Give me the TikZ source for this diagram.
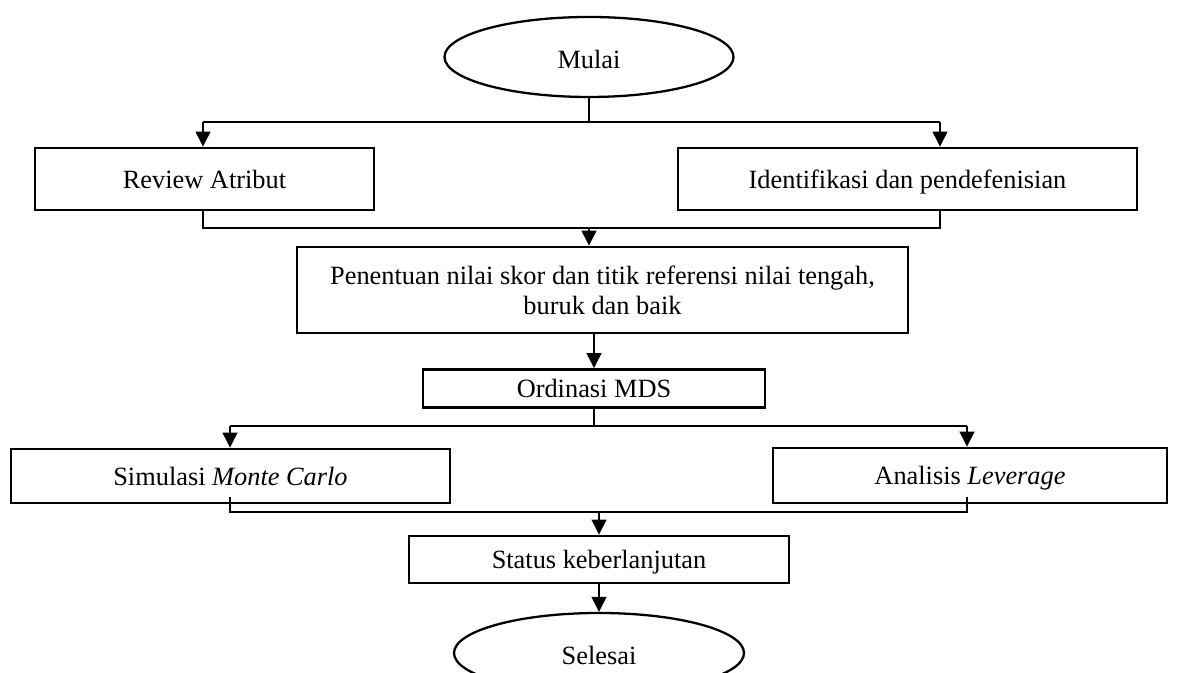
\documentclass[tikz,border=0pt]{standalone}
\usepackage{fontspec}
\setmainfont{Liberation Serif}
\usetikzlibrary{arrows.meta,positioning,calc,shapes.geometric}

\begin{document}
\begin{tikzpicture}[font=\fontsize{15}{17}\selectfont, >={Triangle[length=3mm,width=3mm]},
  procbox/.style={draw, line width=1.6pt, inner sep=0pt, align=center},
  oneline/.style={text height=1.05em, text depth=0em},
  termoval/.style={draw, ellipse, line width=1.3pt, inner sep=0pt, text height=1.3em, text depth=0em},
  link/.style={line width=0.6pt}]
  \useasboundingbox (0,0) rectangle (23.84,13.46);
  \def\sA{11.02}\def\jA{8.90}
  \def\sB{4.94}\def\jB{3.22}

  % ===== terminals and process boxes =====
  \node[termoval,minimum width=5.78cm,minimum height=1.6cm] (mulai) at (11.78,12.32) {Mulai};
  \node[procbox,oneline,minimum width=6.78cm,minimum height=1.24cm] (review) at (4.09,9.88) {Review Atribut};
  \node[procbox,oneline,minimum width=9.18cm,minimum height=1.24cm] (ident) at (18.15,9.88) {Identifikasi dan pendefenisian};
  \node[procbox,minimum width=12.22cm,minimum height=1.72cm] (skor) at (12.05,7.66)
    {Penentuan nilai skor dan titik referensi nilai tengah,\\ buruk dan baik};
  \node[procbox,oneline,minimum width=6.84cm,minimum height=0.76cm] (mds) at (11.88,5.69) {Ordinasi MDS};
  \node[procbox,oneline,minimum width=8.78cm,minimum height=1.08cm] (monte) at (4.61,3.94) {Simulasi \textit{Monte Carlo}};
  \node[procbox,oneline,minimum width=7.88cm,minimum height=1.1cm] (lever) at (19.40,3.95) {Analisis \textit{Leverage}};
  \node[procbox,oneline,minimum width=7.6cm,minimum height=0.94cm] (status) at (11.98,2.27) {Status keberlanjutan};
  \node[termoval,minimum width=5.8cm,minimum height=1.6cm] (selesai) at (11.98,0.40) {Selesai};

  % ===== split / join points =====
  \coordinate (sAL) at (4.06,\sA);  \coordinate (sAR) at (18.80,\sA);
  \coordinate (jAL) at (4.06,\jA);  \coordinate (jAR) at (18.80,\jA);
  \coordinate (sBL) at (4.60,\sB);  \coordinate (sBR) at (19.34,\sB);
  \coordinate (jBL) at (4.60,\jB);  \coordinate (jBR) at (19.34,\jB);

  % ===== connectors =====
  \draw[link] (mulai.south) -- (mulai.south |- sAL);
  \draw[link] (sAL) -- (sAR);
  \draw[link,->] (sAL) -- (sAL |- review.north);
  \draw[link,->] (sAR) -- (sAR |- ident.north);
  \draw[link] (jAL |- review.south) -- (jAL) -- (jAR) -- (jAR |- ident.south);
  \draw[link,->] (jAL -| mulai.south) -- (mulai.south |- skor.north);
  \draw[link,->] (skor.south -| mds.north) -- (mds.north);
  \draw[link] (mds.south) -- (mds.south |- sBL);
  \draw[link] (sBL) -- (sBR);
  \draw[link,->] (sBL) -- (sBL |- monte.north);
  \draw[link,->] (sBR) -- (sBR |- lever.north);
  \draw[link] ([yshift=0.15cm]jBL |- monte.south) -- (jBL) -- (jBR) -- ([yshift=0.15cm]jBR |- lever.south);
  \draw[link,->] (jBL -| status.north) -- (status.north);
  \draw[link,->] (status.south) -- (selesai.north);
\end{tikzpicture}
\end{document}
